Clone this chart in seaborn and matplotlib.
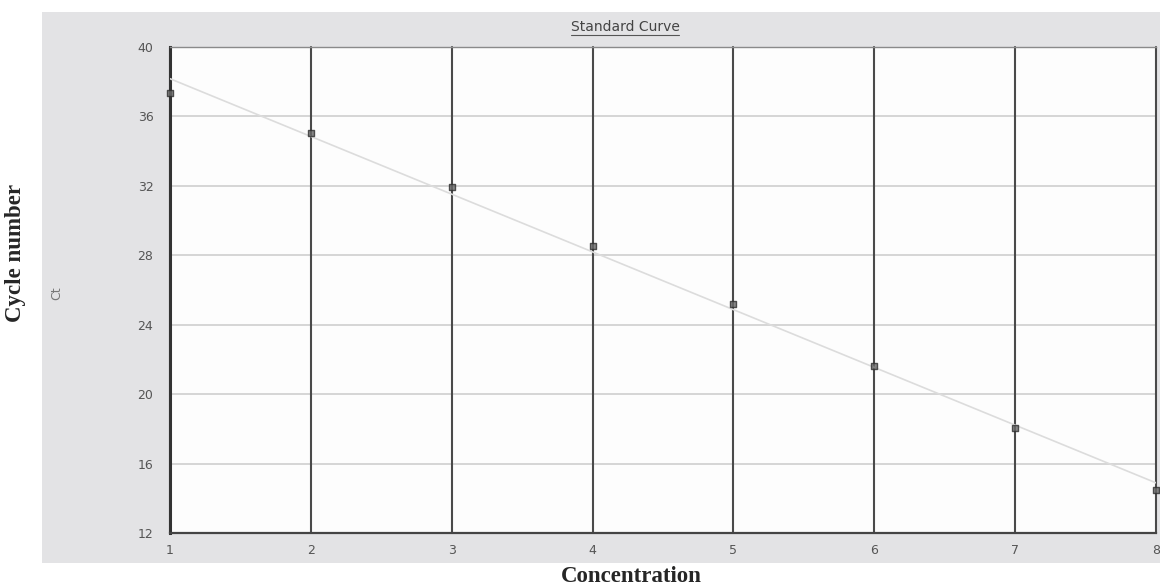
import matplotlib
matplotlib.use("Agg")
import matplotlib.pyplot as plt
import matplotlib.patches as mpatches
import matplotlib.lines as mlines
import numpy as np
import pandas as pd
import seaborn as sns

# data
concentration = [1, 2, 3, 4, 5, 6, 7, 8]
ct_values = [37.33, 35.07, 31.96, 28.54, 25.2, 21.62, 18.05, 14.48]
y_ticks = [12, 16, 20, 24, 28, 32, 36, 40]

df = pd.DataFrame({"Concentration": concentration, "Ct": ct_values})

sns.set_style("white")
plt.rcParams["font.family"] = ["DejaVu Sans"]

fig = plt.figure(figsize=(11.6, 5.86), dpi=100)

# grey instrument panel behind the plot
panel = mpatches.Rectangle((42 / 1160, 1 - 563 / 586), 1 - 42 / 1160, (563 - 12) / 586,
                           transform=fig.transFigure, facecolor="#e3e3e5",
                           edgecolor="none", zorder=-5)
fig.patches.append(panel)

ax = fig.add_axes([170 / 1160, 1 - 533 / 586, (1156 - 170) / 1160, (533 - 47) / 586])
ax.set_zorder(2)
ax.set_facecolor("#fdfdfd")

# grid: light horizontal, dark vertical
for y in y_ticks:
    ax.axhline(y, color="#cfcfcf", lw=1.2, zorder=1)
for x in concentration:
    ax.axvline(x, color="#4a4a4a", lw=1.5, zorder=1, clip_on=False)

sns.regplot(data=df, x="Concentration", y="Ct", ci=None, ax=ax,
            marker="s",
            scatter_kws=dict(s=22, color="#6a6a6a", edgecolors="#2e2e2e",
                             linewidths=1.0, zorder=4, clip_on=False),
            line_kws=dict(color="#dcdcdc", lw=1.2, zorder=3))

ax.set_xlim(1, 8)
ax.set_ylim(12, 40)
ax.set_xticks(concentration)
ax.set_yticks(y_ticks)
ax.tick_params(axis="both", length=0, labelsize=9, colors="#555555")
ax.tick_params(axis="y", pad=12)
ax.tick_params(axis="x", pad=8)
ax.set_xlabel("")
ax.set_ylabel("")

ax.spines["top"].set_visible(True)
ax.spines["top"].set_color("#8a8a8a")
ax.spines["top"].set_linewidth(1.0)
ax.spines["right"].set_visible(False)
ax.spines["left"].set_color("#333333")
ax.spines["left"].set_linewidth(2.2)
ax.spines["bottom"].set_color("#444444")
ax.spines["bottom"].set_linewidth(1.6)

# small "Ct" label of the instrument software
fig.text(57 / 1160, 1 - 293 / 586, "Ct", rotation=90, ha="center", va="center",
         fontsize=9, color="#777777")

# outer bold serif labels
fig.text(16 / 1160, 1 - 253 / 586, "Cycle number", rotation=90, ha="center",
         va="center", fontsize=16.5, fontweight="bold",
         family=["Liberation Serif", "DejaVu Serif"])
fig.text(631 / 1160, 1 - 577 / 586, "Concentration", ha="center", va="center",
         fontsize=16.5, fontweight="bold", family=["Liberation Serif", "DejaVu Serif"])

# underlined title
title = fig.text(625 / 1160, 1 - 27 / 586, "Standard Curve", ha="center",
                 va="center", fontsize=10, color="#444444")
fig.canvas.draw()
bb = title.get_window_extent().transformed(fig.transFigure.inverted())
fig.lines.append(mlines.Line2D([bb.x0, bb.x1], [bb.y0 - 0.002, bb.y0 - 0.002],
                               transform=fig.transFigure, color="#555555", lw=0.8))

fig.savefig("out.png", dpi=100)
